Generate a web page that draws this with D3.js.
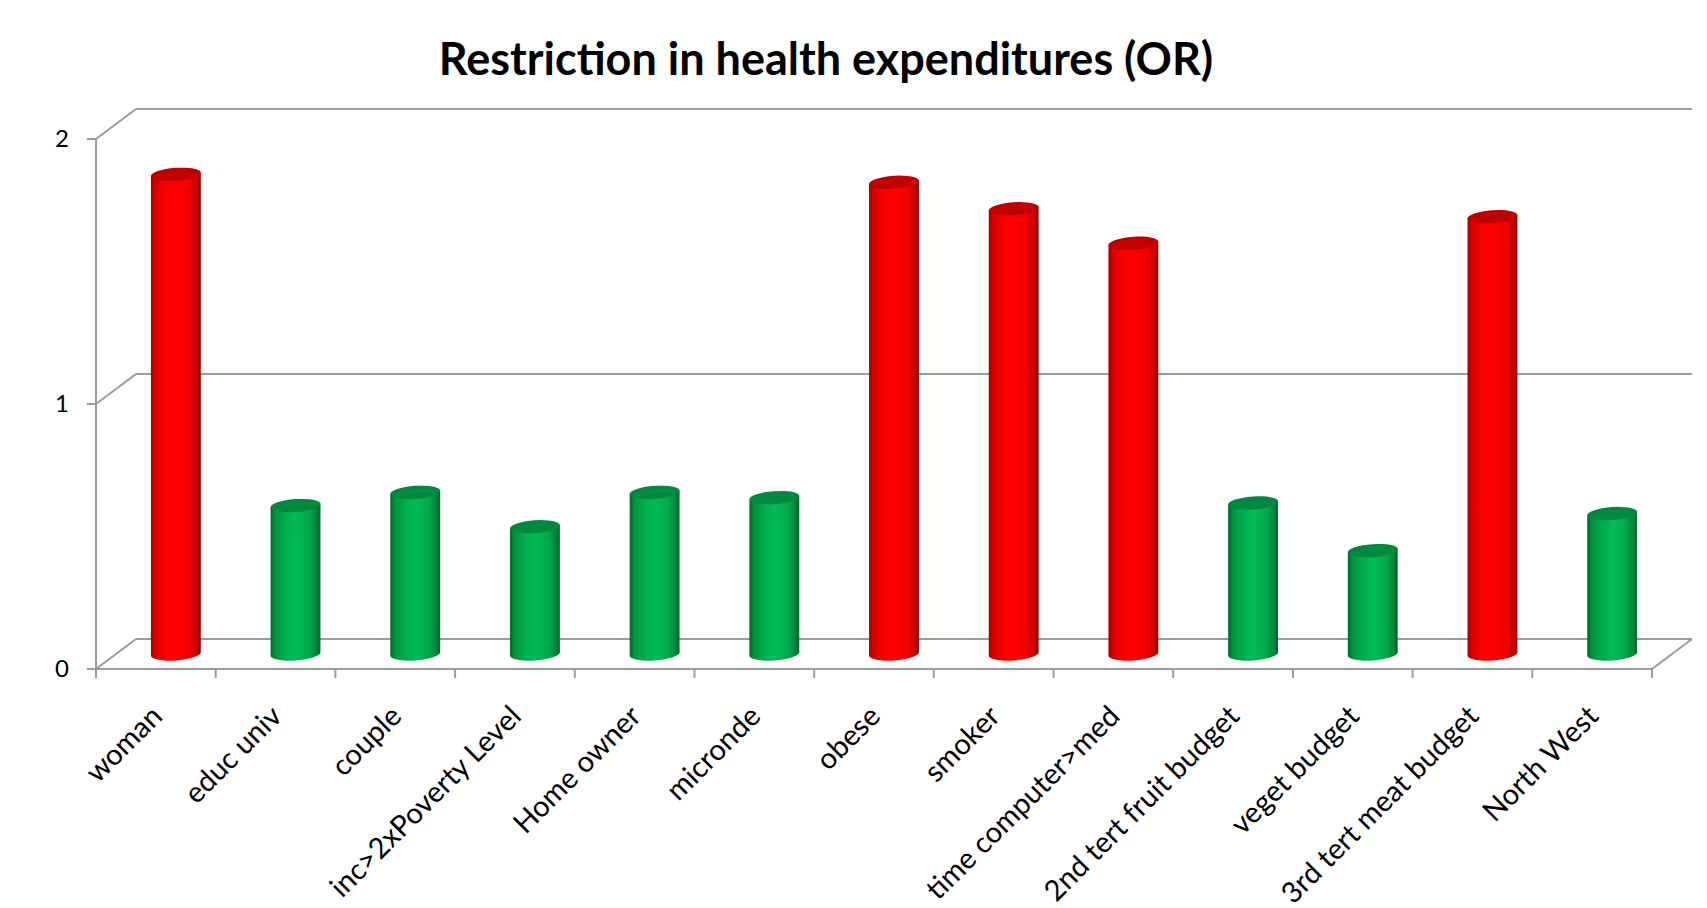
<!DOCTYPE html>
<html>
<head>
<meta charset="utf-8">
<script src="https://cdn.jsdelivr.net/npm/d3@7"></script>
<style>
  html, body { margin: 0; padding: 0; background: #ffffff; }
  svg { display: block; }
</style>
</head>
<body>
<svg id="chart" width="1707" height="908"></svg>
<script>
// Odds ratios of restricting health expenditures, by factor
const categories = [
  "woman", "educ univ", "couple", "inc>2xPoverty Level", "Home owner",
  "micronde", "obese", "smoker", "time computer>med", "2nd tert fruit budget",
  "veget budget", "3rd tert meat budget", "North West"
];
const oddsRatios = [1.81, 0.56, 0.61, 0.48, 0.61, 0.59, 1.78, 1.68, 1.55, 0.57, 0.39, 1.65, 0.53];
// "risk" = factor raises restriction (OR > 1), "protect" = lowers it
const direction = [
  "risk", "protect", "protect", "protect", "protect", "protect", "risk",
  "risk", "risk", "protect", "protect", "risk", "protect"
];
const yTicks = [0, 1, 2];
const title = "Restriction in health expenditures (OR)";

const svg = d3.select("#chart");

// front plane of the 3-D box and its depth offset
const plotLeft = 96, plotRight = 1652, plotBottom = 669, plotTop = 139;
const depthX = 40, depthY = -30;

const x = d3.scaleBand().domain(categories).range([plotLeft, plotRight]).padding(0);
const y = d3.scaleLinear().domain([0, 2]).range([plotBottom, plotTop]);

const gridColor = "#9c9c9c";
const lineW = 2;

// ---- gradients for the cylinders
const defs = svg.append("defs");
function bodyGradient(id, stops) {
  const g = defs.append("linearGradient").attr("id", id)
    .attr("x1", "0%").attr("x2", "100%").attr("y1", "0%").attr("y2", "0%");
  stops.forEach(([o, c]) => g.append("stop").attr("offset", o).attr("stop-color", c));
}
bodyGradient("body-risk", [
  ["0%", "#a80000"], ["10%", "#d80000"], ["30%", "#fa0000"], ["50%", "#ff0000"],
  ["78%", "#f00000"], ["92%", "#c20000"], ["100%", "#9c0000"]
]);
bodyGradient("body-protect", [
  ["0%", "#006a30"], ["10%", "#00943f"], ["32%", "#00b050"], ["52%", "#00bb56"],
  ["78%", "#00a84c"], ["92%", "#00843b"], ["100%", "#006630"]
]);
const topFill = { risk: "#c00000", protect: "#00883f" };

// ---- back wall and floor
const back = svg.append("g").attr("fill", "none").attr("stroke", gridColor).attr("stroke-width", lineW);
yTicks.forEach(t => {
  // back-wall gridline
  back.append("line")
    .attr("x1", plotLeft + depthX).attr("x2", plotRight + depthX)
    .attr("y1", y(t) + depthY).attr("y2", y(t) + depthY);
  // left side-wall diagonal
  back.append("line")
    .attr("x1", plotLeft).attr("y1", y(t))
    .attr("x2", plotLeft + depthX).attr("y2", y(t) + depthY);
});
// right floor edge
back.append("line")
  .attr("x1", plotRight).attr("y1", y(0))
  .attr("x2", plotRight + depthX).attr("y2", y(0) + depthY);

// ---- cylinders, standing halfway into the depth
const barW = 50, rx = barW / 2, ry = 6.5;
const tilt = -4 * Math.PI / 180;
const ox = Math.cos(tilt) * rx, oy = Math.sin(tilt) * rx;

const bars = svg.append("g");
categories.forEach((c, i) => {
  const v = oddsRatios[i];
  const kind = direction[i];
  const cx = x(c) + x.bandwidth() / 2 + depthX / 2;
  const yb = y(0) + depthY / 2;
  const yt = y(v) + depthY / 2;
  const path = [
    "M", cx - ox, yt - oy,
    "L", cx - ox, yb - oy,
    "A", rx, ry, -4, 0, 0, cx + ox, yb + oy,
    "L", cx + ox, yt + oy,
    "Z"
  ].join(" ");
  bars.append("path").attr("d", path).attr("fill", `url(#body-${kind})`);
  bars.append("ellipse")
    .attr("cx", cx).attr("cy", yt).attr("rx", rx).attr("ry", ry)
    .attr("transform", `rotate(-4 ${cx} ${yt})`)
    .attr("fill", topFill[kind]);
});

// ---- front axes
const front = svg.append("g").attr("stroke", gridColor).attr("stroke-width", lineW).attr("fill", "none");
front.append("line").attr("x1", plotLeft).attr("x2", plotLeft).attr("y1", y(2)).attr("y2", y(0) + 9);
front.append("line").attr("x1", plotLeft).attr("x2", plotRight).attr("y1", y(0)).attr("y2", y(0));
yTicks.forEach(t => {
  front.append("line").attr("x1", plotLeft - 9).attr("x2", plotLeft).attr("y1", y(t)).attr("y2", y(t));
});
categories.concat([null]).forEach(c => {
  const xx = c === null ? plotRight : x(c);
  front.append("line").attr("x1", xx).attr("x2", xx).attr("y1", y(0)).attr("y2", y(0) + 9);
});

// y tick labels
svg.append("g").selectAll("text").data(yTicks).join("text")
  .attr("x", plotLeft - 27).attr("y", d => y(d))
  .attr("dy", "0.35em")
  .attr("text-anchor", "end")
  .attr("font-family", "Lato, 'Open Sans', sans-serif")
  .attr("font-size", 24)
  .attr("fill", "#000")
  .text(d => d);

// category labels, rotated 45°
svg.append("g").selectAll("text").data(categories).join("text")
  .attr("transform", d => `translate(${x(d) + x.bandwidth() / 2 + 8},${718}) rotate(-45)`)
  .attr("text-anchor", "end")
  .attr("font-family", "Lato, 'Open Sans', sans-serif")
  .attr("font-size", 29)
  .attr("fill", "#000")
  .text(d => d);

// title
svg.append("text")
  .attr("x", 826).attr("y", 75)
  .attr("text-anchor", "middle")
  .attr("font-family", "Lato, 'Open Sans', sans-serif")
  .attr("font-weight", "bold")
  .attr("font-size", 45)
  .attr("fill", "#000")
  .text(title);
</script>
</body>
</html>
